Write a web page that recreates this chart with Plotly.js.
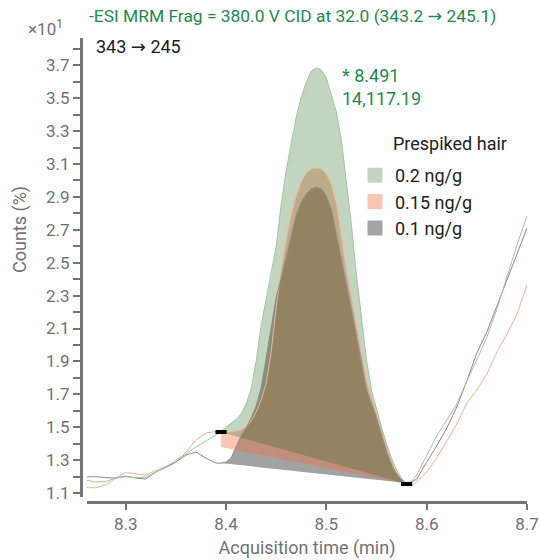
<!DOCTYPE html>
<html>
<head>
<meta charset="utf-8">
<script src="https://cdn.plot.ly/plotly-3.0.1.min.js"></script>
<style>html,body{margin:0;padding:0;background:#fff;}</style>
</head>
<body>
<div id="chart" style="width:540px;height:560px;"></div>
<script>
// Acquisition time (min)
const times = [
  8.26, 8.27, 8.28, 8.29, 8.30, 8.31, 8.32, 8.33, 8.34, 8.35, 8.36, 8.37, 8.38, 8.39,
  8.395, 8.40, 8.405, 8.41, 8.415, 8.42, 8.425, 8.43, 8.435, 8.44, 8.445, 8.45, 8.455, 8.46,
  8.465, 8.47, 8.475, 8.48, 8.485, 8.49, 8.495, 8.50, 8.505, 8.51, 8.515, 8.52, 8.525, 8.53,
  8.535, 8.54, 8.545, 8.55, 8.555, 8.56, 8.565, 8.57, 8.575, 8.58,
  8.585, 8.59, 8.60, 8.61, 8.62, 8.63, 8.64, 8.65, 8.66, 8.67, 8.68, 8.69, 8.70
];
// Counts (%) x10^1, 0.2 ng/g
const green = [
  1.179, 1.167, 1.170, 1.191, 1.199, 1.194, 1.197, 1.228, 1.258, 1.301, 1.337, 1.380, 1.416, 1.456,
  1.471, 1.501, 1.526, 1.547, 1.580, 1.641, 1.732, 1.900, 2.120, 2.280, 2.420, 2.600, 2.860, 3.060,
  3.230, 3.386, 3.507, 3.598, 3.665, 3.685, 3.671, 3.623, 3.519, 3.416, 3.246, 3.003, 2.729, 2.425,
  2.152, 1.909, 1.726, 1.610, 1.500, 1.400, 1.310, 1.240, 1.190, 1.155,
  1.173, 1.209, 1.325, 1.447, 1.544, 1.641, 1.781, 1.909, 2.048, 2.219, 2.413, 2.608, 2.784
];
// 0.15 ng/g
const salmon = [
  1.133, 1.132, 1.149, 1.191, 1.225, 1.219, 1.209, 1.237, 1.264, 1.288, 1.349, 1.422, 1.465, 1.474,
  1.471, 1.471, 1.471, 1.477, 1.483, 1.501, 1.538, 1.592, 1.665, 1.769, 1.957, 2.231, 2.456, 2.638,
  2.790, 2.905, 2.991, 3.045, 3.070, 3.076, 3.070, 3.039, 2.972, 2.860, 2.638, 2.443, 2.285, 2.121,
  1.939, 1.781, 1.678, 1.580, 1.477, 1.374, 1.288, 1.222, 1.179, 1.155,
  1.143, 1.167, 1.228, 1.313, 1.416, 1.519, 1.647, 1.726, 1.823, 1.957, 2.067, 2.188, 2.364
];
// 0.1 ng/g
const gray = [
  1.197, 1.200, 1.194, 1.191, 1.203, 1.191, 1.185, 1.228, 1.255, 1.288, 1.331, 1.349, 1.313, 1.282,
  1.282, 1.288, 1.313, 1.380, 1.447, 1.495, 1.556, 1.629, 1.740, 1.920, 2.120, 2.290, 2.407, 2.541,
  2.674, 2.790, 2.869, 2.918, 2.948, 2.960, 2.948, 2.905, 2.820, 2.674, 2.516, 2.364, 2.212, 2.042,
  1.872, 1.726, 1.641, 1.556, 1.453, 1.349, 1.270, 1.216, 1.179, 1.161,
  1.167, 1.185, 1.288, 1.386, 1.495, 1.623, 1.781, 1.951, 2.079, 2.237, 2.389, 2.559, 2.711
];
const seriesNames = ['0.2 ng/g', '0.15 ng/g', '0.1 ng/g'];
// integration window and baselines (start, end) per series
const intStart = 8.395, intEnd = 8.58;
const baseStart = [1.471, 1.380, 1.282];
const baseEnd = [1.155, 1.155, 1.161];
const xTickVals = [8.3, 8.4, 8.5, 8.6, 8.7];
const xTickText = ['8.3', '8.4', '8.5', '8.6', '8.7'];
const yTickVals = [1.1, 1.3, 1.5, 1.7, 1.9, 2.1, 2.3, 2.5, 2.7, 2.9, 3.1, 3.3, 3.5, 3.7];
const yTickText = ['1.1', '1.3', '1.5', '1.7', '1.9', '2.1', '2.3', '2.5', '2.7', '2.9', '3.1', '3.3', '3.5', '3.7'];
const yMinorVals = [1.2, 1.4, 1.6, 1.8, 2.0, 2.2, 2.4, 2.6, 2.8, 3.0, 3.2, 3.4, 3.6, 3.8];

const series = [green, salmon, gray];
const fillColors = ['rgba(37,105,34,0.28)', 'rgba(237,112,65,0.40)', 'rgba(70,70,70,0.50)'];
const legendColors = ['#c2d5c1', '#f8c6b3', '#a5a4a5'];
const lineColors = ['#a3c4a2', '#f7b096', '#8c8c8c'];

function polygon(vals, b0, b1) {
  const xs = [], ys = [];
  times.forEach((t, i) => {
    if (t >= intStart - 1e-9 && t <= intEnd + 1e-9) { xs.push(t); ys.push(vals[i]); }
  });
  xs.push(intEnd, intStart);
  ys.push(b1, b0);
  return { xs, ys };
}

const traces = [];
// legend entries
for (let k = 0; k < 3; k++) {
  traces.push({
    type: 'scatter', mode: 'markers', x: [null], y: [null], name: seriesNames[k],
    marker: { symbol: 'square', size: 15, color: legendColors[k] },
    showlegend: true, hoverinfo: 'skip'
  });
}
// fills: gray bottom, salmon, green on top
[2, 1, 0].forEach(k => {
  const p = polygon(series[k], baseStart[k], baseEnd[k]);
  traces.push({
    type: 'scatter', mode: 'lines', x: p.xs, y: p.ys, fill: 'toself',
    fillcolor: fillColors[k], line: { width: 0 }, showlegend: false, hoverinfo: 'skip'
  });
});
// chromatogram lines
[1, 2, 0].forEach(k => {
  traces.push({
    type: 'scatter', mode: 'lines', x: times, y: series[k],
    line: { color: lineColors[k], width: 1 }, showlegend: false, hoverinfo: 'skip'
  });
});
// integration markers
traces.push({
  type: 'scatter', mode: 'markers', x: [intStart, intEnd], y: [baseStart[0], baseEnd[0]],
  marker: { symbol: 'line-ew', size: 8, color: '#000', line: { color: '#000', width: 4 } },
  showlegend: false, hoverinfo: 'skip'
});

const axisGray = '#74767b';
const textGray = '#6f7277';
const FONT = 'Roboto, sans-serif';
const ARROW = '<span style="font-family:DejaVu Sans">→</span>';
const W = 446, H = 464; // plot area px
const px = v => (v - 81) / W;
const py = v => (502 - v) / H;

const layout = {
  width: 540, height: 560,
  margin: { l: 81, r: 13, t: 38, b: 58, pad: 0 },
  paper_bgcolor: '#fff', plot_bgcolor: '#fff',
  font: { family: FONT, size: 18, color: textGray },
  title: {
    text: '-ESI MRM Frag = 380.0 V CID at 32.0 (343.2 ' + ARROW + ' 245.1)',
    font: { color: '#1f8a4c', size: 17.4, family: FONT },
    xref: 'container', yref: 'container', x: 89 / 540, xanchor: 'left', y: 1 - 16 / 560, yanchor: 'middle'
  },
  showlegend: true,
  legend: {
    x: px(355), xanchor: 'left', y: py(157), yanchor: 'top',
    font: { size: 18, color: '#222', family: FONT }, bgcolor: 'rgba(0,0,0,0)', itemwidth: 30,
    traceorder: 'normal', tracegroupgap: 0
  },
  xaxis: {
    domain: [0.0135, 1], range: [8.2614, 8.7], anchor: 'free', position: 0,
    showline: true, linecolor: axisGray, linewidth: 2.5,
    ticks: 'outside', ticklen: 6, tickwidth: 2, tickcolor: axisGray,
    tickmode: 'array', tickvals: xTickVals, ticktext: xTickText,
    tickfont: { size: 17, color: textGray, family: FONT },
    showgrid: false, zeroline: false,
    title: { text: 'Acquisition time (min)', font: { size: 18, color: textGray, family: FONT }, standoff: 8 }
  },
  yaxis: {
    domain: [0.0108, 1], range: [1.076, 3.866], anchor: 'free', position: 0,
    showline: true, linecolor: axisGray, linewidth: 2.5,
    ticks: 'outside', ticklen: 7, tickwidth: 2, tickcolor: axisGray,
    tickmode: 'array', tickvals: yTickVals, ticktext: yTickText,
    tickfont: { size: 17, color: textGray, family: FONT },
    minor: { tickmode: 'array', tickvals: yMinorVals, ticks: 'outside', ticklen: 7, tickwidth: 2, tickcolor: axisGray },
    showgrid: false, zeroline: false
  },
  annotations: [
    { xref: 'paper', yref: 'paper', x: px(65), y: py(28), xanchor: 'right', yanchor: 'middle',
      text: '×10<sup>1</sup>', showarrow: false, font: { size: 17, color: textGray, family: FONT } },
    { xref: 'paper', yref: 'paper', x: px(94), y: py(47), xanchor: 'left', yanchor: 'middle',
      text: '343 ' + ARROW + ' 245', showarrow: false, font: { size: 18, color: '#222', family: FONT } },
    { xref: 'paper', yref: 'paper', x: px(340), y: py(75), xanchor: 'left', yanchor: 'middle',
      text: '* 8.491', showarrow: false, font: { size: 18, color: '#1f8a4c', family: FONT } },
    { xref: 'paper', yref: 'paper', x: px(340), y: py(98), xanchor: 'left', yanchor: 'middle',
      text: '14,117.19', showarrow: false, font: { size: 18, color: '#1f8a4c', family: FONT } },
    { xref: 'paper', yref: 'paper', x: px(391), y: py(143), xanchor: 'left', yanchor: 'middle',
      text: 'Prespiked hair', showarrow: false, font: { size: 18, color: '#222', family: FONT } },
    { xref: 'paper', yref: 'paper', x: px(20), y: py(230), xanchor: 'center', yanchor: 'middle',
      text: 'Counts (%)', textangle: -90, showarrow: false, font: { size: 18, color: textGray, family: FONT } }
  ]
};

Plotly.newPlot('chart', traces, layout, { staticPlot: true, displayModeBar: false });
</script>
</body>
</html>
